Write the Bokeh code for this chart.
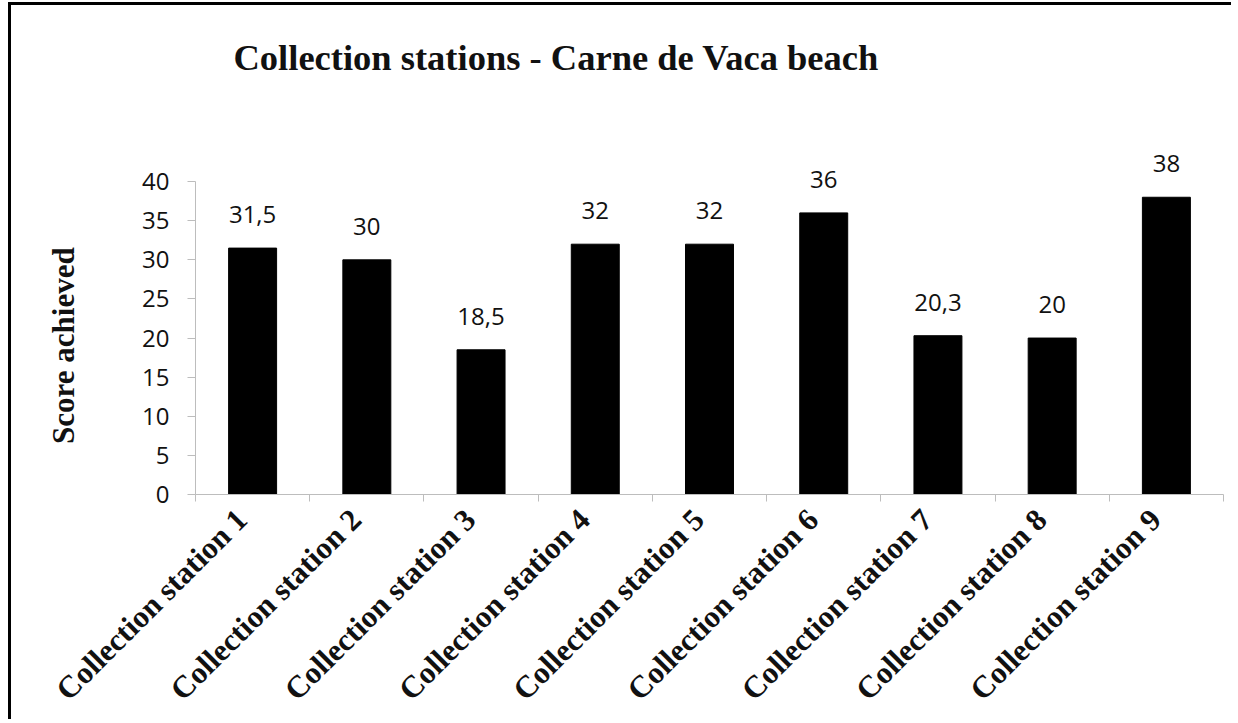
from bokeh.plotting import figure
from bokeh.models import ColumnDataSource, LabelSet, FixedTicker, Range1d
from bokeh.core.properties import value
from bokeh.embed import file_html
from bokeh.resources import INLINE

title_text = "Collection stations - Carne de Vaca beach"
y_title = "Score achieved"
stations = ["Collection station 1", "Collection station 2", "Collection station 3",
            "Collection station 4", "Collection station 5", "Collection station 6",
            "Collection station 7", "Collection station 8", "Collection station 9"]
scores = [31.5, 30, 18.5, 32, 32, 36, 20.3, 20, 38]
score_labels = ["31,5", "30", "18,5", "32", "32", "36", "20,3", "20", "38"]
y_ticks = [0, 5, 10, 15, 20, 25, 30, 35, 40]

NB = "\u00a0"
xs = [i + 0.5 for i in range(len(stations))]
src = ColumnDataSource(dict(x=xs, top=scores, lab=score_labels))

p = figure(width=1223, height=717, output_backend="svg", toolbar_location=None,
           x_range=Range1d(0, len(stations)), y_range=Range1d(0, 45),
           min_border_left=184, min_border_right=11, min_border_top=137,
           min_border_bottom=228)
p.styles = {"border-top": "3px solid black", "border-left": "3px solid black",
            "margin-left": "8px", "margin-top": "2px"}
p.outline_line_color = None
p.xgrid.visible = False
p.ygrid.visible = False

p.title.text = title_text + "\n" + NB
p.title.text_font = "Liberation Serif"
p.title.text_font_style = "bold"
p.title.text_font_size = "36.5px"
p.title.text_line_height = 1.1
p.title.text_color = "#111111"
p.title.align = "left"
p.title.offset = 38
p.title.standoff = 39

p.vbar(x="x", top="top", width=0.42, bottom=0, source=src,
       fill_color="black", line_color="black")

labels = LabelSet(x="x", y="top", text="lab", source=src, text_align="center",
                  text_baseline="alphabetic", y_offset=25,
                  text_font=value("Open Sans"), text_font_size=value("24px"),
                  text_color="#111111")
p.add_layout(labels)

# y axis
ya = p.yaxis[0]
ya.ticker = FixedTicker(ticks=y_ticks)
ya.bounds = (0, 40)
ya.axis_line_color = "#bdbdbd"
ya.major_tick_line_color = "#bdbdbd"
ya.major_tick_out = 8
ya.major_tick_in = 0
ya.minor_tick_line_color = None
ya.major_label_text_font = "Open Sans"
ya.major_label_text_font_size = "24px"
ya.major_label_text_color = "#111111"
ya.major_label_standoff = 18
ya.axis_label = y_title + NB * 7
ya.axis_label_text_font = "Liberation Serif"
ya.axis_label_text_font_style = "bold"
ya.axis_label_text_font_size = "31px"
ya.axis_label_text_color = "#111111"
ya.axis_label_standoff = 58

# x axis
xa = p.xaxis[0]
xa.ticker = FixedTicker(ticks=xs, minor_ticks=list(range(len(stations) + 1)))
xa.major_label_overrides = {x: s + NB * 2 for x, s in zip(xs, stations)}
xa.axis_line_color = "#bdbdbd"
xa.major_tick_line_color = None
xa.major_tick_out = 0
xa.major_tick_in = 0
xa.minor_tick_line_color = "#bdbdbd"
xa.minor_tick_out = 7
xa.minor_tick_in = 0
xa.major_label_orientation = 0.785398
xa.major_label_standoff = 2
xa.major_label_text_font = "Liberation Serif"
xa.major_label_text_font_style = "bold"
xa.major_label_text_font_size = "31px"
xa.major_label_text_color = "#111111"

open("out.html", "w").write(file_html(p, INLINE))
